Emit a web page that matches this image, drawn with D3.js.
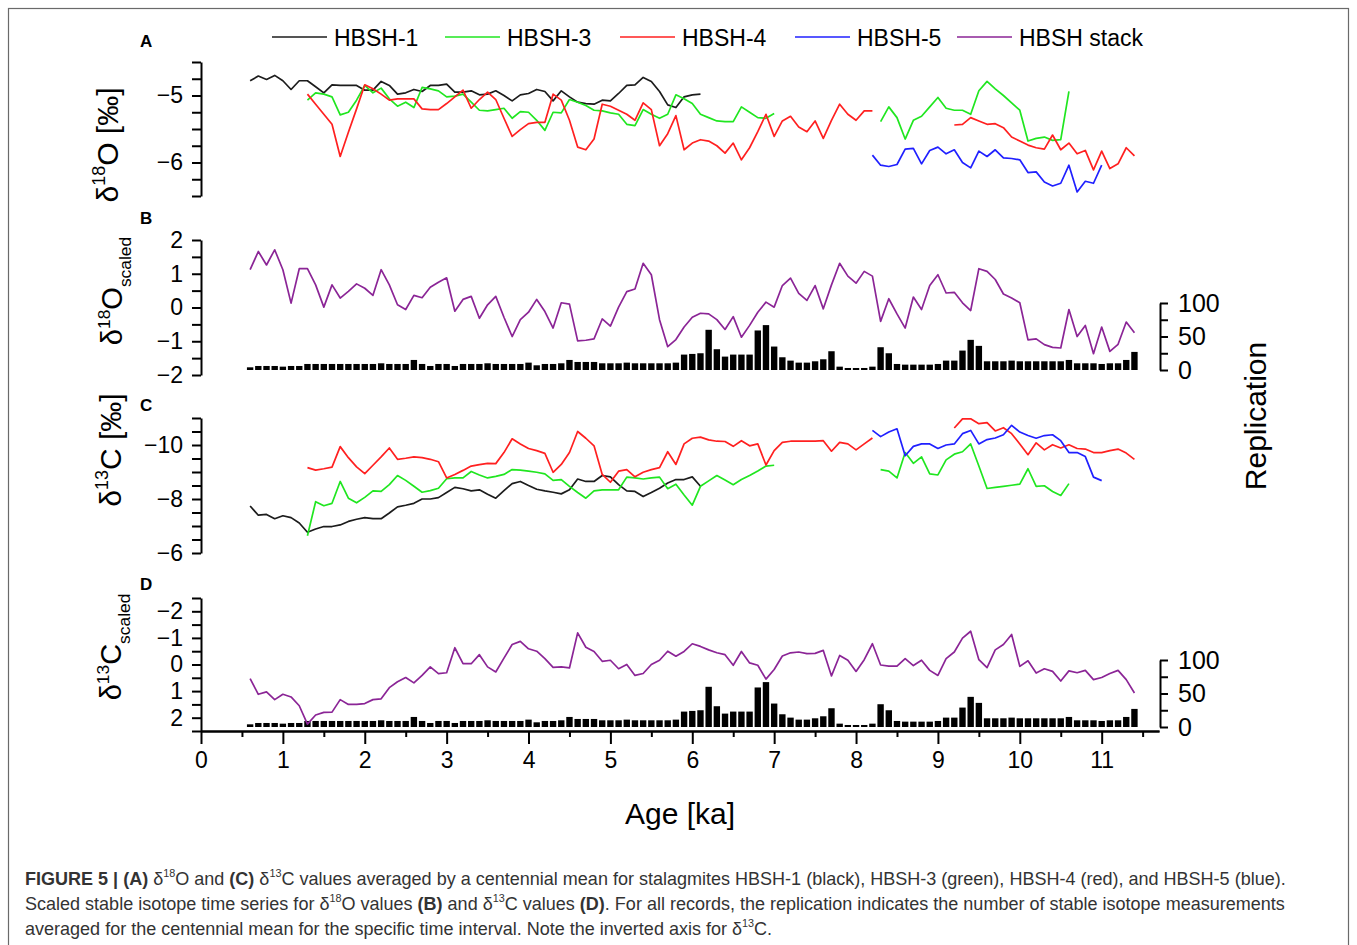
<!DOCTYPE html>
<html>
<head>
<meta charset="utf-8">
<script src="https://cdn.jsdelivr.net/npm/d3@7"></script>
<style>
  body { margin: 0; background: #fff; }
  svg { display: block; }
</style>
</head>
<body>
<svg id="fig" width="1357" height="945"></svg>
<script>
// ---- data (centennial means, 0.1 ka steps, null = no data) ----
const legendNames = ["HBSH-1", "HBSH-3", "HBSH-4", "HBSH-5", "HBSH stack"];
const xTicks = [0, 1, 2, 3, 4, 5, 6, 7, 8, 9, 10, 11];

// A: d18O [permil]
const o18_hbsh1 = [-4.78,-4.71,-4.76,-4.70,-4.78,-4.91,-4.78,-4.78,-4.87,-4.96,
  -4.84,-4.85,-4.85,-4.85,-4.92,-4.92,-4.79,-4.85,-4.98,-4.96,
  -4.91,-4.94,-4.85,-4.85,-4.83,-4.95,-4.95,-4.93,-4.99,-4.98,
  -4.93,-5.00,-5.08,-4.99,-4.97,-4.91,-4.94,-5.08,-4.93,-5.02,
  -5.10,-5.12,-5.13,-5.07,-5.08,-4.97,-4.85,-4.84,-4.73,-4.79,
  -4.94,-5.14,-5.18,-5.02,-4.99,-4.98];                       // 0.6-6.1 ka
const o18_hbsh3 = [-5.07,-4.96,-4.98,-5.02,-5.29,-5.25,-5.07,-4.85,-4.96,-4.89,
  -5.05,-5.16,-5.10,-5.18,-4.88,-4.90,-4.93,-5.02,-5.01,-4.98,
  -5.10,-5.22,-5.23,-5.21,-5.19,-5.34,-5.24,-5.25,-5.37,-5.52,
  -5.25,-5.26,-5.06,-5.10,-5.15,-5.22,-5.23,-5.26,-5.28,-5.43,
  -5.45,-5.21,-5.28,-5.34,-5.28,-4.99,-5.05,-5.12,-5.28,-5.33,
  -5.38,-5.39,-5.39,-5.17,-5.25,-5.33,-5.34,-5.27,
  null,null,null,null,null,null,null,null,null,null,null,null,
  -5.39,-5.17,-5.33,-5.65,-5.37,-5.31,-5.17,-5.03,-5.19,-5.22,
  -5.22,-5.28,-4.93,-4.79,-4.90,-5.00,-5.11,-5.22,-5.68,-5.64,
  -5.62,-5.67,-5.66,-4.94];                                   // 1.3-10.6 ka
const o18_hbsh4 = [-4.98,-5.13,-5.28,-5.43,-5.91,-5.55,-5.20,-4.84,-4.90,-4.98,
  -5.07,-5.05,-5.05,-5.05,-5.20,-5.21,-5.21,-5.12,-5.02,-4.92,
  -5.19,-5.06,-4.95,-5.06,-5.34,-5.61,-5.51,-5.42,-5.40,-5.40,
  -4.98,-5.07,-5.37,-5.77,-5.81,-5.65,-5.13,-5.16,-5.22,-5.28,
  -5.37,-5.11,-5.21,-5.75,-5.57,-5.30,-5.81,-5.71,-5.66,-5.68,
  -5.75,-5.86,-5.71,-5.96,-5.78,-5.54,-5.28,-5.61,-5.38,-5.31,
  -5.47,-5.54,-5.38,-5.64,-5.37,-5.13,-5.28,-5.37,-5.23,-5.23,
  null,null,null,null,null,null,null,null,null,
  -5.44,-5.43,-5.33,-5.38,-5.43,-5.42,-5.48,-5.62,-5.68,-5.74,
  -5.78,-5.80,-5.59,-5.81,-5.71,-5.87,-5.82,-6.11,-5.83,-6.09,
  -6.02,-5.78,-5.90];                                         // 1.3-11.4 ka
const o18_hbsh5 = [-5.89,-6.04,-6.06,-6.03,-5.80,-5.79,-6.02,-5.82,-5.77,-5.87,
  -5.81,-6.00,-6.08,-5.83,-5.91,-5.81,-5.93,-5.94,-5.96,-6.15,
  -6.14,-6.29,-6.35,-6.31,-6.04,-6.44,-6.28,-6.31,-6.04];     // 8.2-11.0 ka

// B: d18O stack (scaled)
const o18_stack = [1.12,1.66,1.26,1.71,1.12,0.13,1.15,1.15,0.67,0.01,
  0.67,0.28,0.48,0.70,0.57,0.36,1.12,0.67,0.08,-0.06,
  0.36,0.29,0.60,0.75,0.88,-0.11,0.24,0.33,-0.32,0.08,
  0.33,-0.29,-0.86,-0.36,-0.14,0.24,-0.12,-0.61,0.14,0.10,
  -0.99,-0.97,-0.93,-0.34,-0.55,0.01,0.47,0.55,1.31,0.97,
  -0.36,-1.16,-0.95,-0.58,-0.29,-0.17,-0.19,-0.36,-0.65,-0.27,
  -0.88,-0.53,-0.14,0.16,0.01,0.65,0.87,0.42,0.21,0.65,
  -0.04,0.67,1.31,0.93,0.72,1.07,0.93,-0.41,0.26,-0.19,
  -0.61,0.31,-0.06,0.65,0.97,0.43,0.45,0.14,-0.09,1.15,
  1.07,0.83,0.40,0.28,0.14,-0.96,-0.93,-1.10,-1.18,-1.20,
  -0.06,-0.86,-0.53,-1.37,-0.58,-1.30,-1.09,-0.43,-0.75];    // 0.6-11.4 ka

// C: d13C [permil]
const c13_hbsh1 = [-7.74,-7.40,-7.43,-7.27,-7.38,-7.31,-7.11,-6.77,-6.89,-6.98,
  -6.98,-7.04,-7.17,-7.25,-7.31,-7.27,-7.27,-7.48,-7.71,-7.77,
  -7.84,-8.00,-8.00,-8.05,-8.24,-8.43,-8.38,-8.30,-8.34,-8.18,
  -8.03,-8.31,-8.57,-8.65,-8.50,-8.36,-8.30,-8.25,-8.19,-8.34,
  -8.74,-8.65,-8.65,-8.87,-8.82,-8.53,-8.30,-8.28,-8.09,-8.24,
  -8.40,-8.59,-8.72,-8.72,-8.82,-8.47];                       // 0.6-6.1 ka
const c13_hbsh3 = [-6.64,-7.90,-7.75,-7.84,-8.65,-8.03,-7.86,-8.06,-8.30,-8.28,
  -8.53,-8.87,-8.69,-8.47,-8.25,-8.31,-8.40,-8.75,-8.78,-8.78,
  -9.02,-8.89,-8.78,-8.84,-8.91,-9.09,-9.07,-9.03,-8.99,-8.93,
  -8.69,-8.72,-8.47,-8.24,-8.03,-8.30,-8.34,-8.34,-8.34,-8.81,
  -8.78,-8.74,-8.78,-8.81,-8.38,-8.55,-8.15,-7.77,-8.47,-8.67,
  -8.87,-8.70,-8.53,-8.72,-8.87,-9.04,-9.22,-9.25,
  null,null,null,null,null,null,null,null,null,null,null,null,
  -9.09,-9.03,-8.78,-9.72,-9.32,-9.56,-8.93,-8.89,-9.45,-9.66,
  -9.75,-10.04,-9.22,-8.39,-8.43,-8.47,-8.51,-8.55,-9.12,-8.47,
  -8.49,-8.28,-8.13,-8.57];                                   // 1.3-10.6 ka
const c13_hbsh4 = [-9.16,-9.07,-9.12,-9.18,-9.94,-9.53,-9.19,-8.94,-9.25,-9.56,
  -9.89,-9.47,-9.51,-9.56,-9.53,-9.47,-9.38,-8.78,-8.91,-9.06,
  -9.22,-9.27,-9.32,-9.31,-9.72,-10.23,-10.04,-9.87,-9.79,-9.69,
  -8.99,-9.28,-9.72,-10.50,-10.25,-9.97,-8.91,-8.62,-9.03,-9.09,
  -8.82,-8.99,-9.09,-9.16,-9.75,-9.28,-10.04,-10.25,-10.29,-10.19,
  -10.14,-10.13,-9.95,-10.16,-9.97,-10.04,-9.26,-9.79,-10.10,-10.14,
  -10.14,-10.14,-10.14,-10.16,-9.77,-10.10,-10.04,-9.82,-10.04,-10.26,
  null,null,null,null,null,null,null,null,null,
  -10.63,-10.97,-10.97,-10.79,-10.83,-10.52,-10.64,-10.42,-10.04,-9.64,
  -10.08,-9.82,-10.01,-9.89,-10.01,-9.87,-9.85,-9.72,-9.72,-9.79,
  -9.85,-9.70,-9.47];                                         // 1.3-11.4 ka
const c13_hbsh5 = [-10.54,-10.31,-10.48,-10.60,-9.60,-9.95,-10.04,-10.04,-9.87,-10.00,
  -10.04,-10.42,-10.54,-10.04,-10.20,-10.26,-10.38,-10.73,-10.48,-10.35,
  -10.25,-10.35,-10.38,-10.16,-9.72,-9.72,-9.57,-8.81,-8.68]; // 8.2-11.0 ka

// D: d13C stack (scaled)
const c13_stack = [0.53,1.12,1.03,1.32,1.12,1.22,1.55,2.24,1.90,1.80,
  1.79,1.32,1.50,1.50,1.47,1.32,1.29,0.87,0.65,0.49,
  0.69,0.41,0.09,0.34,0.31,-0.63,-0.03,-0.03,-0.37,0.09,
  0.28,-0.24,-0.75,-0.87,-0.59,-0.50,-0.22,0.11,0.09,0.13,
  -1.19,-0.65,-0.49,-0.12,-0.16,0.16,0.00,0.41,0.34,0.00,
  -0.16,-0.50,-0.31,-0.49,-0.78,-0.68,-0.55,-0.44,-0.37,0.03,
  -0.49,-0.06,0.03,0.55,0.19,-0.32,-0.44,-0.47,-0.41,-0.42,
  -0.53,0.43,-0.34,-0.16,0.26,-0.18,-0.78,0.02,0.06,0.06,
  -0.22,0.04,-0.16,0.22,0.41,-0.22,-0.47,-0.99,-1.25,-0.18,
  0.12,-0.55,-0.75,-1.13,0.07,-0.14,0.32,0.16,0.26,0.62,
  0.24,0.31,0.22,0.57,0.49,0.34,0.22,0.57,1.07];             // 0.6-11.4 ka

// replication (number of measurements per century)
const replication = [4,6,6,6,5,6,6,9,9,9,
  9,9,9,9,9,9,10,9,9,9,
  15,9,6,9,9,6,9,9,9,10,
  9,9,9,9,11,7,9,9,10,15,
  12,12,12,10,10,10,11,10,10,10,
  10,10,11,23,24,25,60,31,20,23,
  23,23,59,67,35,19,14,11,11,13,
  16,28,5,3,3,3,5,34,25,9,
  8,8,8,8,9,14,14,29,45,36,
  13,13,13,14,13,13,13,13,13,13,
  15,10,10,10,9,10,10,15,27];                                 // 0.6-11.4 ka

// ---- layout ----
const font = "'Liberation Sans', Arial, Helvetica, sans-serif";
const colors = ["#1c1c1c", "#20e620", "#ff2020", "#2020ff", "#8b2596"];

const svg = d3.select("#fig").attr("font-family", font);

const x = d3.scaleLinear().domain([0, 11.7]).range([201, 1159]);
const yA = d3.scaleLinear().domain([-6.5, -4.5]).range([196, 62]);
const yB = d3.scaleLinear().domain([-2, 2]).range([375, 240]);
const rB = d3.scaleLinear().domain([0, 100]).range([370, 303]);
const yC = d3.scaleLinear().domain([-11, -6]).range([418, 553]);
const yD = d3.scaleLinear().domain([-2.5, 2.5]).range([598, 731]);
const rD = d3.scaleLinear().domain([0, 100]).range([727, 660]);

const fmt = d3.format("d");

// outer frame
svg.append("rect")
  .attr("x", 8.5).attr("y", 8.5)
  .attr("width", 1340).attr("height", 980)
  .attr("fill", "none")
  .attr("stroke", "#6a6a6a")
  .attr("stroke-width", 1.2);

function styleAxis(g, fs) {
  g.attr("font-family", font).attr("font-size", fs);
  g.select(".domain").attr("stroke", "#000").attr("stroke-width", 2);
  g.selectAll(".tick line").attr("stroke", "#000").attr("stroke-width", 2);
  g.selectAll(".tick text").attr("fill", "#000");
}

function series(from, values) {
  return values.map((v, i) => [Math.round(from * 10 + i) / 10, v]);
}

function drawLine(y, from, values, color) {
  const line = d3.line()
    .defined(d => d[1] !== null)
    .x(d => x(d[0]))
    .y(d => y(d[1]));
  svg.append("path")
    .datum(series(from, values))
    .attr("fill", "none")
    .attr("stroke", color)
    .attr("stroke-width", 1.7)
    .attr("stroke-linejoin", "round")
    .attr("d", line);
}

function drawBars(r, from, values) {
  const w = x(0.078) - x(0);
  svg.append("g").selectAll("rect")
    .data(series(from, values))
    .join("rect")
      .attr("x", d => x(d[0]) - w / 2)
      .attr("width", w)
      .attr("y", d => r(d[1]))
      .attr("height", d => r(0) - r(d[1]))
      .attr("fill", "#000");
}

function leftAxis(y, ticks, labelled) {
  const ax = d3.axisLeft(y)
    .tickValues(ticks)
    .tickSize(9)
    .tickSizeOuter(0)
    .tickPadding(9)
    .tickFormat(d => labelled(d) ? fmt(d) : "");
  svg.append("g")
    .attr("transform", `translate(${x(0)},0)`)
    .call(ax)
    .call(styleAxis, 23);
}

function repAxis(r) {
  const ax = d3.axisRight(r)
    .tickValues([0, 25, 50, 75, 100])
    .tickSize(8)
    .tickSizeOuter(0)
    .tickPadding(10)
    .tickFormat(d => d % 50 === 0 ? d : "");
  svg.append("g")
    .attr("transform", `translate(${x(11.7) + 1},0)`)
    .call(ax)
    .call(styleAxis, 25);
}

// rich text with super/subscripts and bold runs
function richText(sel, parts, size) {
  let shift = 0;
  parts.forEach(([t, kind]) => {
    const target = kind === "sup" ? -0.42 * size : kind === "sub" ? 0.32 * size : 0;
    sel.append("tspan")
      .attr("dy", target - shift)
      .attr("font-size", (kind === "sup" || kind === "sub") ? size * 0.6 : size)
      .attr("font-weight", kind === "b" ? "bold" : null)
      .text(t);
    shift = target;
  });
  return sel;
}

function vLabel(cx, cy, parts, size) {
  const t = svg.append("text")
    .attr("transform", `translate(${cx},${cy}) rotate(-90)`)
    .attr("text-anchor", "middle")
    .attr("fill", "#000")
    .attr("font-size", size);
  richText(t, parts, size);
}

// ---- panel A ----
leftAxis(yA, d3.range(-6.5, -4.4, 0.25), d => d === -5 || d === -6);
drawLine(yA, 0.6, o18_hbsh1, colors[0]);
drawLine(yA, 1.3, o18_hbsh3, colors[1]);
drawLine(yA, 1.3, o18_hbsh4, colors[2]);
drawLine(yA, 8.2, o18_hbsh5, colors[3]);

// ---- panel B ----
leftAxis(yB, d3.range(-2, 2.1, 0.5), d => Number.isInteger(d));
drawBars(rB, 0.6, replication);
repAxis(rB);
drawLine(yB, 0.6, o18_stack, colors[4]);

// ---- panel C (inverted) ----
leftAxis(yC, d3.range(-11, -5.9, 0.5), d => d === -10 || d === -8 || d === -6);
drawLine(yC, 0.6, c13_hbsh1, colors[0]);
drawLine(yC, 1.3, c13_hbsh3, colors[1]);
drawLine(yC, 1.3, c13_hbsh4, colors[2]);
drawLine(yC, 8.2, c13_hbsh5, colors[3]);

// ---- panel D (inverted) ----
leftAxis(yD, d3.range(-2.5, 2.6, 0.5), d => Number.isInteger(d));
drawBars(rD, 0.6, replication);
repAxis(rD);
drawLine(yD, 0.6, c13_stack, colors[4]);

// ---- x axis ----
svg.append("g")
  .attr("transform", `translate(0,${yD.range()[1]})`)
  .call(d3.axisBottom(x).tickValues(d3.range(0.5, 11.6, 1)).tickSize(6).tickSizeOuter(0).tickFormat(""))
  .call(styleAxis, 23);
svg.append("g")
  .attr("transform", `translate(0,${yD.range()[1]})`)
  .call(d3.axisBottom(x).tickValues(xTicks).tickSize(13).tickSizeOuter(0).tickPadding(8).tickFormat(fmt))
  .call(styleAxis, 23);

svg.append("text")
  .attr("x", 680).attr("y", 824)
  .attr("text-anchor", "middle")
  .attr("font-size", 30)
  .attr("fill", "#000")
  .text("Age [ka]");

// ---- axis titles ----
vLabel(118, 145, [["δ", ""], ["18", "sup"], ["O [‰]", ""]], 30);
vLabel(122, 291, [["δ", ""], ["18", "sup"], ["O", ""], ["scaled", "sub"]], 29);
vLabel(121, 450, [["δ", ""], ["13", "sup"], ["C [‰]", ""]], 30);
vLabel(121, 647, [["δ", ""], ["13", "sup"], ["C", ""], ["scaled", "sub"]], 29);
vLabel(1266, 416, [["Replication", ""]], 30);

// panel letters
[["A", 47], ["B", 224], ["C", 411], ["D", 590]].forEach(([l, yy]) => {
  svg.append("text")
    .attr("x", 140).attr("y", yy)
    .attr("font-size", 17)
    .attr("font-weight", "bold")
    .attr("fill", "#000")
    .text(l);
});

// ---- legend ----
const legendX = [272, 445, 620, 795, 957];
const legend = svg.append("g");
legendNames.forEach((name, i) => {
  legend.append("line")
    .attr("x1", legendX[i]).attr("x2", legendX[i] + 55)
    .attr("y1", 37).attr("y2", 37)
    .attr("stroke", colors[i])
    .attr("stroke-width", 1.7);
  legend.append("text")
    .attr("x", legendX[i] + 62).attr("y", 46)
    .attr("font-size", 23)
    .attr("fill", "#000")
    .text(name);
});

// ---- caption ----
const captionLines = [
  [["FIGURE 5 | ", "b"], ["(A)", "b"], [" δ", ""], ["18", "sup"], ["O and ", ""], ["(C)", "b"], [" δ", ""], ["13", "sup"],
   ["C values averaged by a centennial mean for stalagmites HBSH-1 (black), HBSH-3 (green), HBSH-4 (red), and HBSH-5 (blue).", ""]],
  [["Scaled stable isotope time series for δ", ""], ["18", "sup"], ["O values ", ""], ["(B)", "b"], [" and δ", ""], ["13", "sup"],
   ["C values ", ""], ["(D)", "b"], [". For all records, the replication indicates the number of stable isotope measurements", ""]],
  [["averaged for the centennial mean for the specific time interval. Note the inverted axis for δ", ""], ["13", "sup"], ["C.", ""]]
];
const capBase = [885, 910, 935];
let capSize = 16.5;
const capTexts = captionLines.map((parts, i) => {
  const t = svg.append("text")
    .attr("x", 25).attr("y", capBase[i])
    .attr("fill", "#333")
    .attr("font-size", capSize);
  richText(t, parts, capSize);
  return t;
});
// fit first line to the reference width
const w0 = capTexts[0].node().getComputedTextLength();
const k = 1262 / w0;
capTexts.forEach((t, i) => {
  t.remove();
});
capSize = capSize * k;
captionLines.forEach((parts, i) => {
  const t = svg.append("text")
    .attr("x", 25).attr("y", capBase[i])
    .attr("fill", "#333")
    .attr("font-size", capSize);
  richText(t, parts, capSize);
});
</script>
</body>
</html>
